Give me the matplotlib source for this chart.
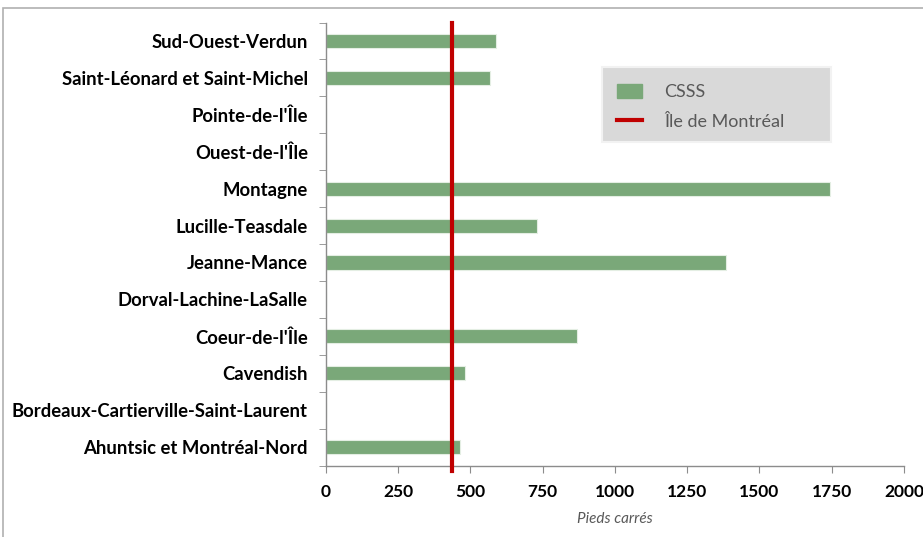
import matplotlib.pyplot as plt
from matplotlib.patches import Rectangle
from matplotlib.lines import Line2D
import numpy as np

plt.rcParams['font.family'] = ['Lato', 'DejaVu Sans']

# Données
categories = ["Ahuntsic et Montréal-Nord", "Bordeaux-Cartierville-Saint-Laurent",
              "Cavendish", "Coeur-de-l'Île", "Dorval-Lachine-LaSalle", "Jeanne-Mance",
              "Lucille-Teasdale", "Montagne", "Ouest-de-l'Île", "Pointe-de-l'Île",
              "Saint-Léonard et Saint-Michel", "Sud-Ouest-Verdun"]
csss = [465, 0, 482, 867, 0, 1385, 731, 1745, 0, 0, 566, 587]
ile_mtl = 437
xticks = [0, 250, 500, 750, 1000, 1250, 1500, 1750, 2000]

vert = '#7aa879'
rouge = '#c00000'
gris = '#8c8c8c'

fig = plt.figure(figsize=(9.23, 5.37), dpi=100)
ax = fig.add_axes([0.3532, 0.1331, 0.6262, 0.8249])

# Cadre du graphique (coupé à droite et en bas comme la capture)
fig.patches.append(Rectangle((3 / 923, -0.1), 1.2, 1 - 8 / 537 + 0.1,
                             transform=fig.transFigure, fill=False,
                             edgecolor='#b0b0b0', lw=1.2))

y = np.arange(len(categories))
ax.barh(y, csss, height=0.38, color=vert, edgecolor='#e4eee3', lw=0.8, zorder=2)
ax.axvline(ile_mtl, ymin=-0.012, ymax=1, color=rouge, lw=3.0, zorder=3, clip_on=False)

ax.set_xlim(0, 2000)
ax.set_ylim(-0.5, len(categories) - 0.5)
ax.set_xticks(xticks)
ax.set_xticklabels([str(v) for v in xticks], fontsize=12.5, fontweight='bold')
ax.set_yticks(y)
ax.set_yticklabels(categories, fontsize=13.3, fontweight='bold')
ax.set_yticks(np.arange(-0.5, len(categories), 1), minor=True)
ax.tick_params(axis='y', which='major', length=0, pad=13)
ax.tick_params(axis='y', which='minor', length=5, color=gris, direction='out')
ax.tick_params(axis='x', length=5, color=gris, pad=8)

for s in ['top', 'right']:
    ax.spines[s].set_visible(False)
for s in ['left', 'bottom']:
    ax.spines[s].set_color(gris)
    ax.spines[s].set_linewidth(1)

ax.set_xlabel('Pieds carrés', fontsize=11, style='italic', color='#595959', labelpad=9)

# Fond de la légende (plus large que le contenu, comme dans Excel)
ax.add_patch(Rectangle((602 / 923, 1 - 142 / 537), 229 / 923, 75 / 537,
                       transform=fig.transFigure, facecolor='#d9d9d9',
                       edgecolor='#f2f2f2', lw=1.5, zorder=5, clip_on=False))

handles = [Rectangle((0, 0), 1, 1, color=vert), Line2D([0], [0], color=rouge, lw=3)]
leg = ax.legend(handles, ['CSSS', 'Île de Montréal'], loc='upper left',
                bbox_to_anchor=(617 / 923, 1 - 84 / 537), bbox_transform=fig.transFigure,
                fontsize=13, frameon=False, borderpad=0, labelspacing=0.75,
                handlelength=1.4, handleheight=0.8, handletextpad=1.2, borderaxespad=0)
leg.set_zorder(6)
for t in leg.get_texts():
    t.set_color('#595959')

fig.savefig('out.png', dpi=100)
